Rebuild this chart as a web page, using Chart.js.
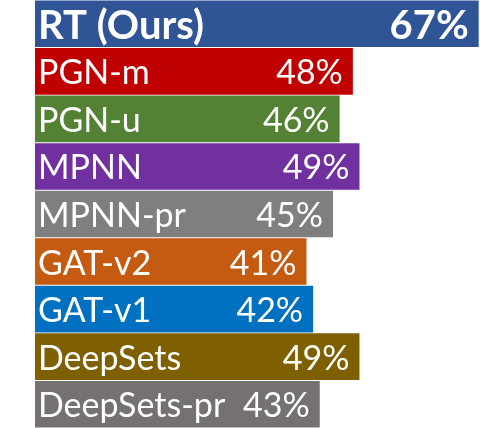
<!DOCTYPE html>
<html>
<head>
<meta charset="utf-8">
<script src="https://cdn.jsdelivr.net/npm/chart.js@4"></script>
<style>
  html, body { margin: 0; padding: 0; background: #fff; }
  #wrap { width: 480px; height: 428px; }
</style>
</head>
<body>
<div id="wrap"><canvas id="myChart"></canvas></div>
<script>
const categories = ["RT (Ours)", "PGN-m", "PGN-u", "MPNN", "MPNN-pr", "GAT-v2", "GAT-v1", "DeepSets", "DeepSets-pr"];
const scores = [67, 48, 46, 49, 45, 41, 42, 49, 43];
const barColors = ["#2F5597", "#C00000", "#548235", "#7030A0", "#7F7F7F", "#C55A11", "#0070C0", "#7F6000", "#767171"];

// names at the base of each bar, values at the end
const insideLabels = {
  id: "insideLabels",
  afterDatasetsDraw(chart) {
    const ctx = chart.ctx;
    const meta = chart.getDatasetMeta(0);
    ctx.save();
    ctx.fillStyle = "#fff";
    ctx.textBaseline = "middle";
    meta.data.forEach((bar, i) => {
      // first row (ours) is bold and bigger
      ctx.font = i === 0 ? "bold 40px Lato" : "34px Lato";
      ctx.textAlign = "left";
      ctx.fillText(categories[i], bar.base + 3, bar.y + 2);
      ctx.textAlign = "right";
      ctx.fillText(scores[i] + "%", bar.x - 10, bar.y + 2);
    });
    ctx.restore();
  },
};

const ctx = document.getElementById("myChart").getContext("2d");
const myChart = new Chart(ctx, {
  type: "bar",
  data: {
    labels: categories,
    datasets: [
      {
        data: scores,
        backgroundColor: barColors,
        borderWidth: 0,
        barPercentage: 0.98,
        categoryPercentage: 1,
      },
    ],
  },
  options: {
    indexAxis: "y",
    responsive: true,
    maintainAspectRatio: false,
    animation: false,
    layout: {
      padding: { left: 35, right: 0, top: 0, bottom: 0 },
    },
    plugins: {
      legend: { display: false },
      tooltip: { enabled: false },
    },
    scales: {
      x: { display: false, min: 0, max: 67.2 },
      y: { display: false },
    },
  },
  plugins: [insideLabels],
});
</script>
</body>
</html>
